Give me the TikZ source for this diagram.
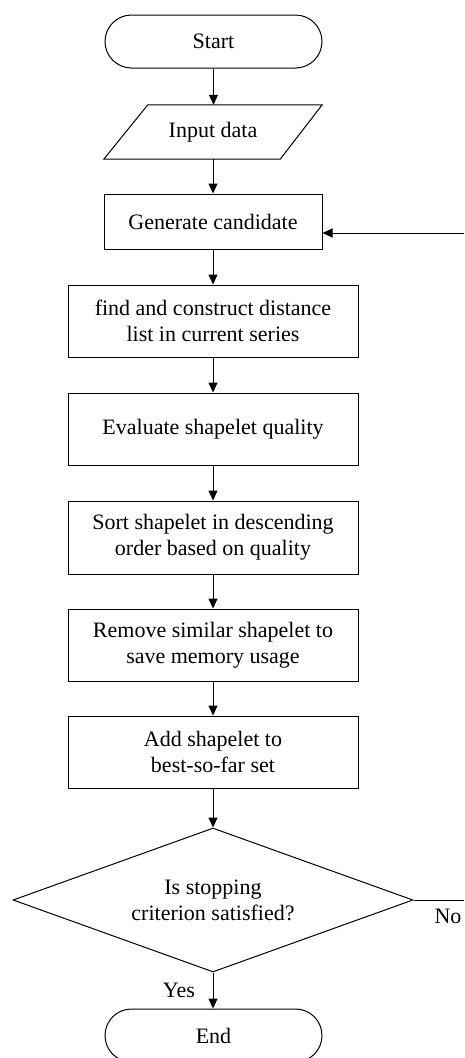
\documentclass[tikz,border=0pt]{standalone}
\usepackage{fontspec}
\setmainfont{Liberation Serif}
\usetikzlibrary{arrows.meta,shapes.geometric,calc}

\tikzset{
  base/.style={font=\fontsize{22}{26}\selectfont, align=center, inner sep=0pt},
  terminal/.style={base, draw, line width=1pt, minimum width=217pt, minimum height=53pt, rounded corners=26.5pt},
  iobox/.style={base, minimum width=218pt, minimum height=54pt},
  narrowbox/.style={base, draw, line width=1pt, minimum width=218pt, minimum height=55pt},
  widebox/.style={base, draw, line width=1pt, minimum width=290pt, minimum height=72pt},
  decision/.style={base, draw, line width=1pt, diamond, aspect=2.78, minimum width=400pt, minimum height=144pt},
  flow/.style={line width=1pt, -{Triangle[length=10pt,width=9pt]}},
  plain/.style={line width=1pt},
  lbl/.style={font=\fontsize{22}{26}\selectfont, inner sep=0pt}
}

\begin{document}
\begin{tikzpicture}[x=1pt, y=-1pt]
  \useasboundingbox (0,0) rectangle (464,1058);

  \node[terminal] (start) at (213.5,41.5) {Start};

  \node[iobox] (in) at (213,132) {Input data};
  \draw[line width=1pt] ($(in.north west)+(44,0)$) -- (in.north east)
    -- ($(in.south east)-(42,0)$) -- (in.south west) -- cycle;

  \node[narrowbox] (gen) at (213,221.5) {Generate candidate};
  \node[widebox] (find) at (213,321) {find and construct distance\\list in current series};
  \node[widebox] (eval) at (213,429) {Evaluate shapelet quality};
  \node[widebox, minimum height=73pt] (sort) at (213,537.5) {Sort shapelet in descending\\order based on quality};
  \node[widebox] (rem) at (213,645) {Remove similar shapelet to\\save memory usage};
  \node[widebox] (add) at (213,752) {Add shapelet to\\best-so-far set};
  \node[decision] (dec) at (213,900) {Is stopping\\criterion satisfied?};
  \node[terminal] (end) at (213.5,1035.5) {End};

  \coordinate (fb) at (464,233);
  \coordinate (noend) at (464,900);

  \draw[flow] (start) -- (start.south |- in.north);
  \draw[flow] (in) -- (in.south |- gen.north);
  \draw[flow] (gen) -- (find);
  \draw[flow] (find) -- (eval);
  \draw[flow] (eval) -- (sort);
  \draw[flow] (sort) -- (rem);
  \draw[flow] (rem) -- (add);
  \draw[flow] (add) -- (dec);
  \draw[flow] (dec.south) -- (end.north -| dec.south);
  \draw[flow] (fb) -- (fb -| gen.east);
  \draw[plain] (dec.east) -- (noend);

  \node[lbl] (yes) at (179,990) {Yes};
  \node[lbl] (no) at (448,916) {No};
\end{tikzpicture}
\end{document}
